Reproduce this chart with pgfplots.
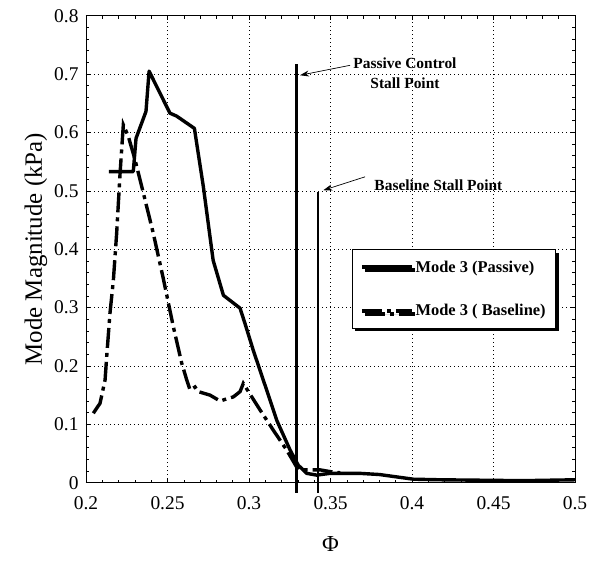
\documentclass[border=0pt]{standalone}
\usepackage{fontspec}
\setmainfont{Liberation Serif}
\usepackage{pgfplots}
\pgfplotsset{compat=1.18}
\usetikzlibrary{arrows.meta,shadows}
\begin{document}
\begin{tikzpicture}
\begin{axis}[
	scale only axis,
	width=489bp, height=467bp,
	xmin=0.2, xmax=0.5,
	ymin=0, ymax=0.8,
	xtick={0.2,0.25,...,0.5},
	ytick={0,0.1,...,0.8},
	minor x tick num=4,
	minor y tick num=4,
	tick align=inside,
	tick pos=both,
	major tick length=4bp,
	minor tick length=3bp,
	every tick/.style={black, line width=0.6bp},
	axis line style={line width=0.8bp},
	grid=major,
	major grid style={black, line width=0.6bp, dash pattern=on 0.8bp off 3.2bp},
	/pgf/number format/assume math mode=true,
	/pgf/number format/fixed,
	xticklabel style={font=\fontsize{19.5}{19.5}\selectfont, yshift=-10bp},
	yticklabel style={font=\fontsize{19.5}{19.5}\selectfont, xshift=-4bp},
	xlabel={Φ},
	xlabel style={font=\fontsize{23}{23}\selectfont, yshift=-20bp},
	ylabel={Mode Magnitude (kPa)},
	ylabel style={font=\fontsize{25}{25}\selectfont, yshift=0bp},
	clip=false,
	legend style={
		at={(axis cs:0.363,0.4)}, anchor=north west,
		draw=black, line width=1bp, fill=white,
		font=\bfseries\fontsize{16.5}{16.5}\selectfont,
		inner xsep=8bp, inner ysep=9bp,
		row sep=27bp,
		drop shadow={shadow xshift=3bp, shadow yshift=-3bp, fill=black, opacity=1},
		/tikz/every even column/.append style={column sep=3bp},
	},
	legend cell align=left,
	legend image code/.code={\draw[#1] (0bp,0bp) -- (50bp,0bp);},
]
% Mode 3 (Passive)
\addplot[black, line width=3.4bp, line join=round] coordinates {
(0.214,0.533) (0.229,0.533) (0.2307,0.59) (0.2368,0.636) (0.2387,0.705)
(0.2515,0.633) (0.2556,0.628) (0.2665,0.607) (0.272,0.507) (0.278,0.381)
(0.2843,0.321) (0.2945,0.299) (0.2975,0.273) (0.3026,0.227) (0.3108,0.159)
(0.317,0.107) (0.3252,0.056) (0.3302,0.030) (0.3354,0.016) (0.3415,0.013)
(0.3497,0.016) (0.368,0.016) (0.380,0.014) (0.4008,0.006) (0.4172,0.005)
(0.468,0.0035) (0.5,0.005)
};
\addlegendentry{Mode 3 (Passive)}
% Mode 3 (Baseline)
\addplot[black, line width=3.4bp, dash pattern=on 20bp off 5bp on 4bp off 5bp] coordinates {
(0.2045,0.119) (0.2086,0.136) (0.2117,0.176) (0.2127,0.216) (0.2147,0.29)
(0.2168,0.347) (0.2188,0.427) (0.2209,0.530) (0.2229,0.613) (0.226,0.593)
(0.2301,0.553) (0.2352,0.496) (0.2413,0.427) (0.2474,0.35) (0.2536,0.267)
(0.2587,0.205) (0.2618,0.176) (0.2638,0.159) (0.2669,0.164) (0.2689,0.156)
(0.2761,0.150) (0.2822,0.140) (0.2904,0.147) (0.2945,0.156) (0.2965,0.170)
(0.3017,0.147) (0.3067,0.125) (0.3149,0.090) (0.3231,0.056) (0.3292,0.027)
(0.331,0.022) (0.3436,0.022) (0.3497,0.019) (0.356,0.017)
};
\addlegendentry{Mode 3 ( Baseline)}
% stall points
\addplot[black, line width=2.8bp, forget plot] coordinates {(0.329,-0.017) (0.329,0.718)};
\addplot[black, line width=1.9bp, forget plot] coordinates {(0.3422,-0.018) (0.3422,0.4985)};
\draw[black, line width=0.7bp, -{Stealth[length=9bp, width=6bp]}] (axis cs:0.362,0.715) -- (axis cs:0.3313,0.698);
\draw[black, line width=0.7bp, -{Stealth[length=9bp, width=6bp]}] (axis cs:0.3712,0.524) -- (axis cs:0.3456,0.501);
\node[align=center, font=\bfseries\fontsize{15.5}{20}\selectfont] at (axis cs:0.3957,0.701) {Passive Control\\Stall Point};
\node[font=\bfseries\fontsize{15.5}{15.5}\selectfont] at (axis cs:0.4162,0.51) {Baseline Stall Point};
\end{axis}
\pgfresetboundingbox
\path[use as bounding box] ([shift={(-86bp,-81.3bp)}]current axis.south west) rectangle ([shift={(19bp,15.7bp)}]current axis.north east);
\end{tikzpicture}
\end{document}
